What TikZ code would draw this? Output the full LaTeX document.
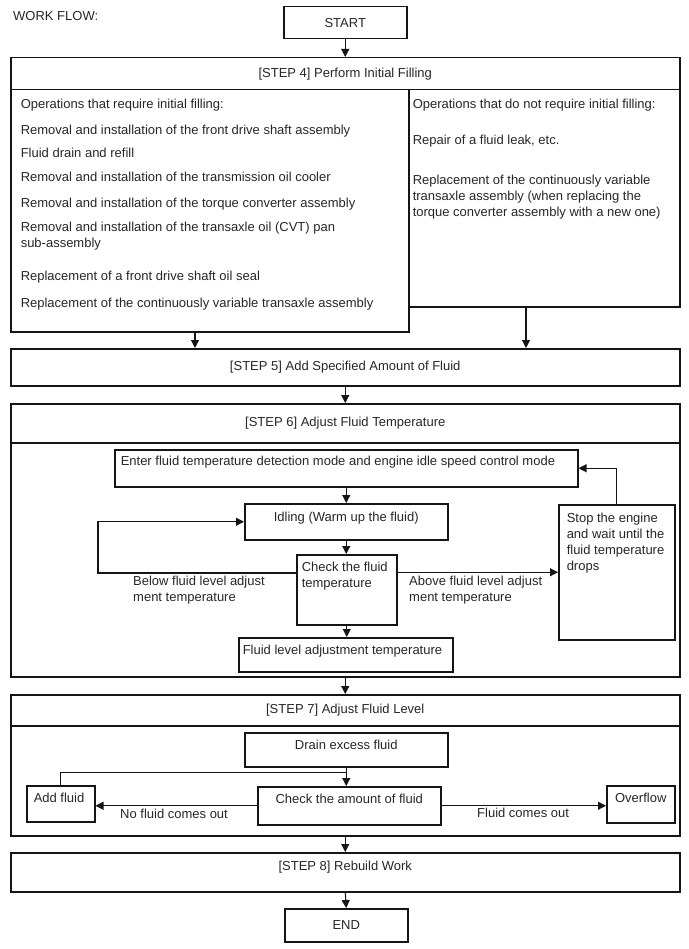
\documentclass[tikz,border=0pt]{standalone}
\usepackage{fontspec}
\setmainfont{Liberation Sans}
\usetikzlibrary{arrows.meta,positioning}
\definecolor{WInk}{HTML}{151515}
\definecolor{WText}{HTML}{262626}

\newcommand{\inbox}[3]{\parbox[t][#2][t]{#1}{\raggedright #3}}

\begin{document}
\begin{tikzpicture}[x=1pt,y=-1pt,>={Triangle[length=8pt,width=8pt]},
    font=\fontsize{13}{16}\selectfont,text=WText,
    box/.style={draw=WInk,line width=1.5pt,anchor=north west,inner sep=0pt,align=center},
    note/.style={inner sep=0pt,align=left},
    conn/.style={draw=WInk,line width=1.1pt}]
    \useasboundingbox (0,0) rectangle (688,949);

    \node[note,anchor=west] (title) at (13,16) {WORK FLOW:};
    \node[box,minimum width=123pt,minimum height=32pt] (start) at (283,6) {START};

    % step 4
    \node[box,minimum width=669pt,minimum height=32pt] (step4) at (10,57) {[STEP 4] Perform Initial Filling};
    \node[box,inner xsep=10pt,inner ysep=9pt] (reqbox) at (10,89) {\inbox{378pt}{224pt}{%
        Operations that require initial filling:\\[10pt]
        Removal and installation of the front drive shaft assembly\\[7pt]
        Fluid drain and refill\\[8pt]
        Removal and installation of the transmission oil cooler\\[10pt]
        Removal and installation of the torque converter assembly\\[8pt]
        Removal and installation of the transaxle oil (CVT) pan\\
        sub-assembly\\[17pt]
        Replacement of a front drive shaft oil seal\\[11pt]
        Replacement of the continuously variable transaxle assembly}};
    \node[box,inner xsep=4pt,inner ysep=9pt] (noreq) at (408,89) {\inbox{263pt}{199pt}{%
        Operations that do not require initial filling:\\[20pt]
        Repair of a fluid leak, etc.\\[24pt]
        Replacement of the continuously variable\\
        transaxle assembly (when replacing the\\
        torque converter assembly with a new one)}};

    % step 5
    \node[box,minimum width=669pt,minimum height=37pt] (step5) at (10,348) {[STEP 5] Add Specified Amount of Fluid};

    % step 6
    \node[box,minimum width=669pt,minimum height=39pt] (step6) at (10,403) {[STEP 6] Adjust Fluid Temperature};
    \node[box,minimum width=669pt,minimum height=234pt] (step6body) at (10,442) {};
    \node[box,inner xsep=6pt,inner ysep=6pt] (enter) at (114,449) {\inbox{451pt}{25pt}{Enter fluid temperature detection mode and engine idle speed control mode}};
    \node[box,inner xsep=5pt,inner ysep=8pt] (idling) at (244,503) {\inbox{193pt}{20pt}{\centering Idling (Warm up the fluid)}};
    \node[box,inner xsep=5pt,inner ysep=7pt] (check) at (296,554) {\inbox{90pt}{56pt}{Check the fluid\\temperature}};
    \node[box,inner xsep=4pt,inner ysep=7pt] (fltemp) at (238,637) {\inbox{206pt}{20pt}{Fluid level adjustment temperature}};
    \node[box,inner xsep=8pt,inner ysep=8pt] (stop) at (558,504) {\inbox{100pt}{119pt}{Stop the engine\\and wait until the\\fluid temperature\\drops}};
    \node[note,anchor=north west] (below) at (133,576) {Below fluid level adjust\\ment temperature};
    \node[note,anchor=north west] (above) at (409,576) {Above fluid level adjust\\ment temperature};

    % step 7
    \node[box,minimum width=669pt,minimum height=31pt] (step7) at (10,694) {[STEP 7] Adjust Fluid Level};
    \node[box,minimum width=669pt,minimum height=110pt] (step7body) at (10,725) {};
    \node[box,inner xsep=5pt,inner ysep=7pt] (drain) at (244,732) {\inbox{193pt}{20pt}{\centering Drain excess fluid}};
    \node[box,inner xsep=7pt,inner ysep=7pt] (addfluid) at (26,785) {\inbox{54pt}{22pt}{Add fluid}};
    \node[box,inner xsep=5pt,inner ysep=7pt] (checkamt) at (257,786) {\inbox{173pt}{24pt}{\centering Check the amount of fluid}};
    \node[box,inner xsep=4pt,inner ysep=7pt] (overflow) at (606,785) {\inbox{60pt}{23pt}{\centering Overflow}};
    \node[note,anchor=west] (nofluid) at (120,814) {No fluid comes out};
    \node[note,anchor=west] (fluidout) at (477,813) {Fluid comes out};

    % step 8 and end
    \node[box,inner xsep=0pt,inner ysep=8pt] (step8) at (10,852) {\inbox{669pt}{23pt}{\centering [STEP 8] Rebuild Work}};
    \node[box,minimum width=123pt,minimum height=33pt] (endbox) at (284,908) {END};

    \coordinate (tapL) at (195,0);
    \coordinate (tapR) at (526,0);

    \draw[conn,->] (start.south) -- (start.south |- step4.north);
    \draw[conn,->] (reqbox.south -| tapL) -- (step5.north -| tapL);
    \draw[conn,->] (noreq.south -| tapR) -- (step5.north -| tapR);
    \draw[conn,->] (step5.south) -- (step6.north);
    \draw[conn,->] (enter.south) -- (enter.south |- idling.north);
    \draw[conn,->] (idling.south) -- (idling.south |- check.north);
    \draw[conn,->] (check.south) -- (check.south |- fltemp.north);
    \draw[conn,->] ([yshift=-19pt]check.north west) -- ++(-198,0) |- (idling.west);
    \draw[conn,->] (check.east |- stop.west) -- (stop.west);
    \draw[conn,->] (stop.north) |- (enter.east);
    \draw[conn,->] (step6body.south) -- (step7.north);
    \draw[conn,->] (drain.south) -- (drain.south |- checkamt.north);
    \draw[conn] (addfluid.north) |- ([yshift=-5pt]drain.south);
    \draw[conn,->] (checkamt.west) -- (checkamt.west -| addfluid.east);
    \draw[conn,->] (checkamt.east) -- (checkamt.east -| overflow.west);
    \draw[conn,->] (step7body.south) -- (step8.north);
    \draw[conn,->] (step8.south) -- (endbox.north);
\end{tikzpicture}
\end{document}
